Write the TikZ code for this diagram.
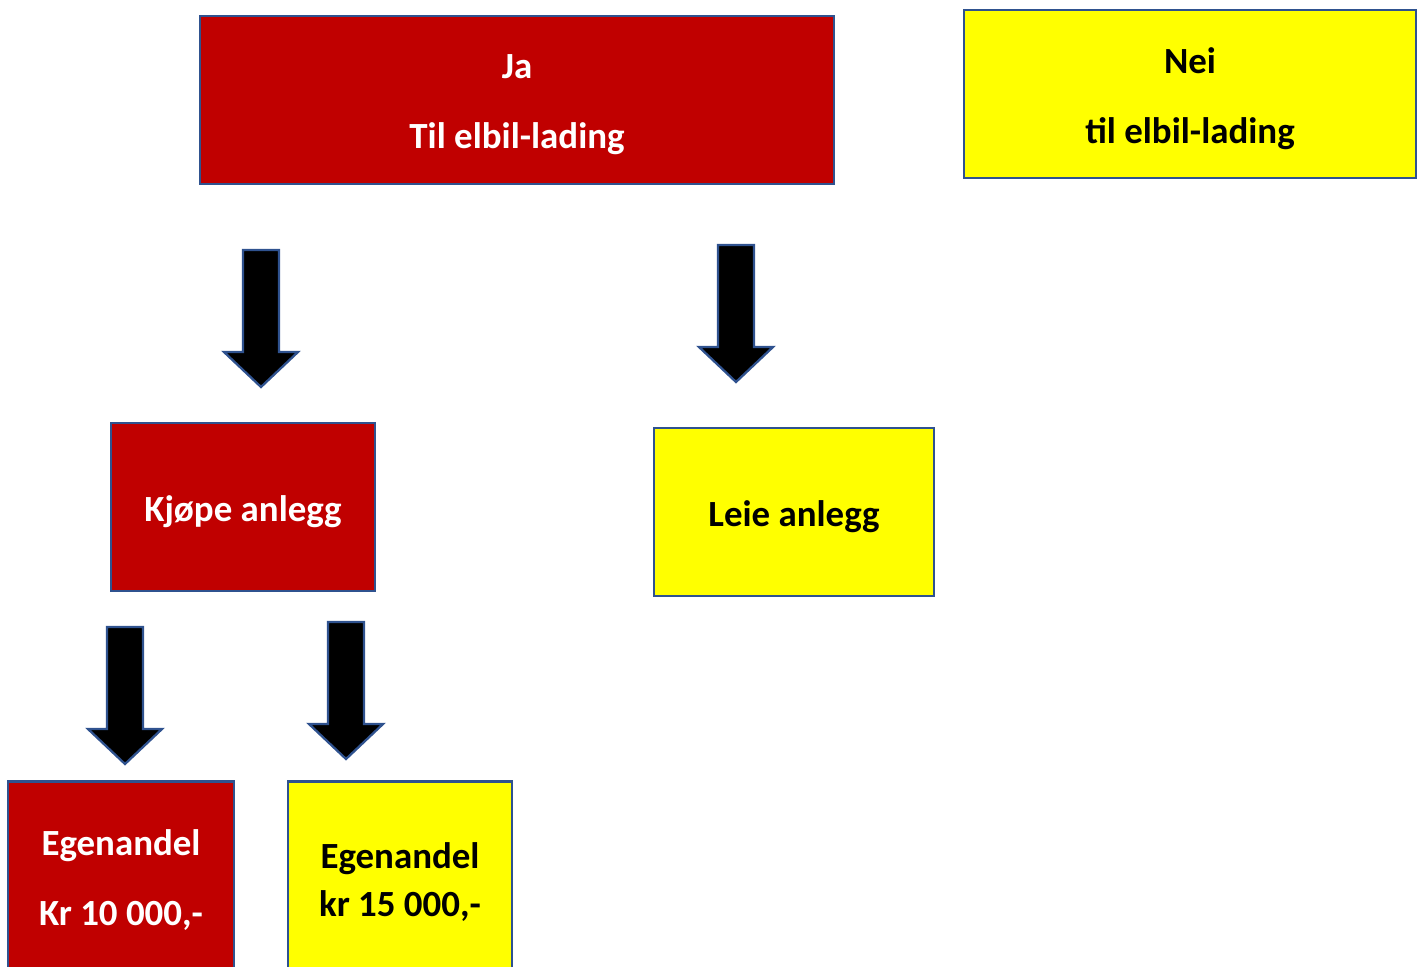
\documentclass[tikz,border=0pt]{standalone}
\usepackage{fontspec}
\setmainfont{Carlito}
\usepackage{tikz}
\usetikzlibrary{calc}

\definecolor{boxred}{HTML}{C00000}
\definecolor{boxyellow}{HTML}{FFFF00}
\definecolor{boxline}{HTML}{2F528F}

\begin{document}
\begin{tikzpicture}[x=0.2mm,y=-0.2mm,
    box/.style={draw=boxline, line width=1.3pt, minimum height=33.6mm},
    redbox/.style={box, fill=boxred},
    yellowbox/.style={box, fill=boxyellow},
    boxtext/.style={align=center, font=\bfseries\fontsize{21pt}{40pt}\selectfont},
    pil/.pic={\draw[boxline, fill=black, line width=1.3pt, line join=miter]
        (-18,0) -- (18,0) -- (18,102) -- (37,102) -- (0,137) -- (-37,102) -- (-18,102) -- cycle;}]
            \useasboundingbox (0,0) rectangle (1422,967);
            \clip (0,0) rectangle (1422,967);
            \node[redbox, minimum width=126.8mm] (Ja) at (517,100) {};
            \node[yellowbox, minimum width=90.4mm] (Nei) at (1190,94) {};
            \node[redbox, minimum width=52.8mm] (Kjope) at (243,507) {};
            \node[yellowbox, minimum width=56mm] (Leie) at (794,512) {};
            \node[redbox, minimum width=45.2mm, minimum height=38.6mm] (Egen10) at (121,878) {};
            \node[yellowbox, minimum width=44.8mm, minimum height=38.6mm] (Egen15) at (400,878) {};
            % tekst
            \node[boxtext, white] at ($(Ja)+(0,5)$) {Ja\\Til elbil-lading};
            \node[boxtext] at ($(Nei)+(0,5)$) {Nei\\til elbil-lading};
            \node[boxtext, white] at ($(Kjope)+(0,5)$) {Kjøpe anlegg};
            \node[boxtext] at ($(Leie)+(0,5)$) {Leie anlegg};
            \node[boxtext, white] at ($(Egen10)+(0,2)$) {Egenandel\\Kr 10 000,-};
            \node[boxtext, font=\bfseries\fontsize{21pt}{27pt}\selectfont] at ($(Egen15)+(0,4)$) {Egenandel\\kr 15 000,-};
            % piler
            \pic at (261,250) {pil};
            \pic at (736,245) {pil};
            \pic at (125,627) {pil};
            \pic at (346,622) {pil};
        \end{tikzpicture}
\end{document}
